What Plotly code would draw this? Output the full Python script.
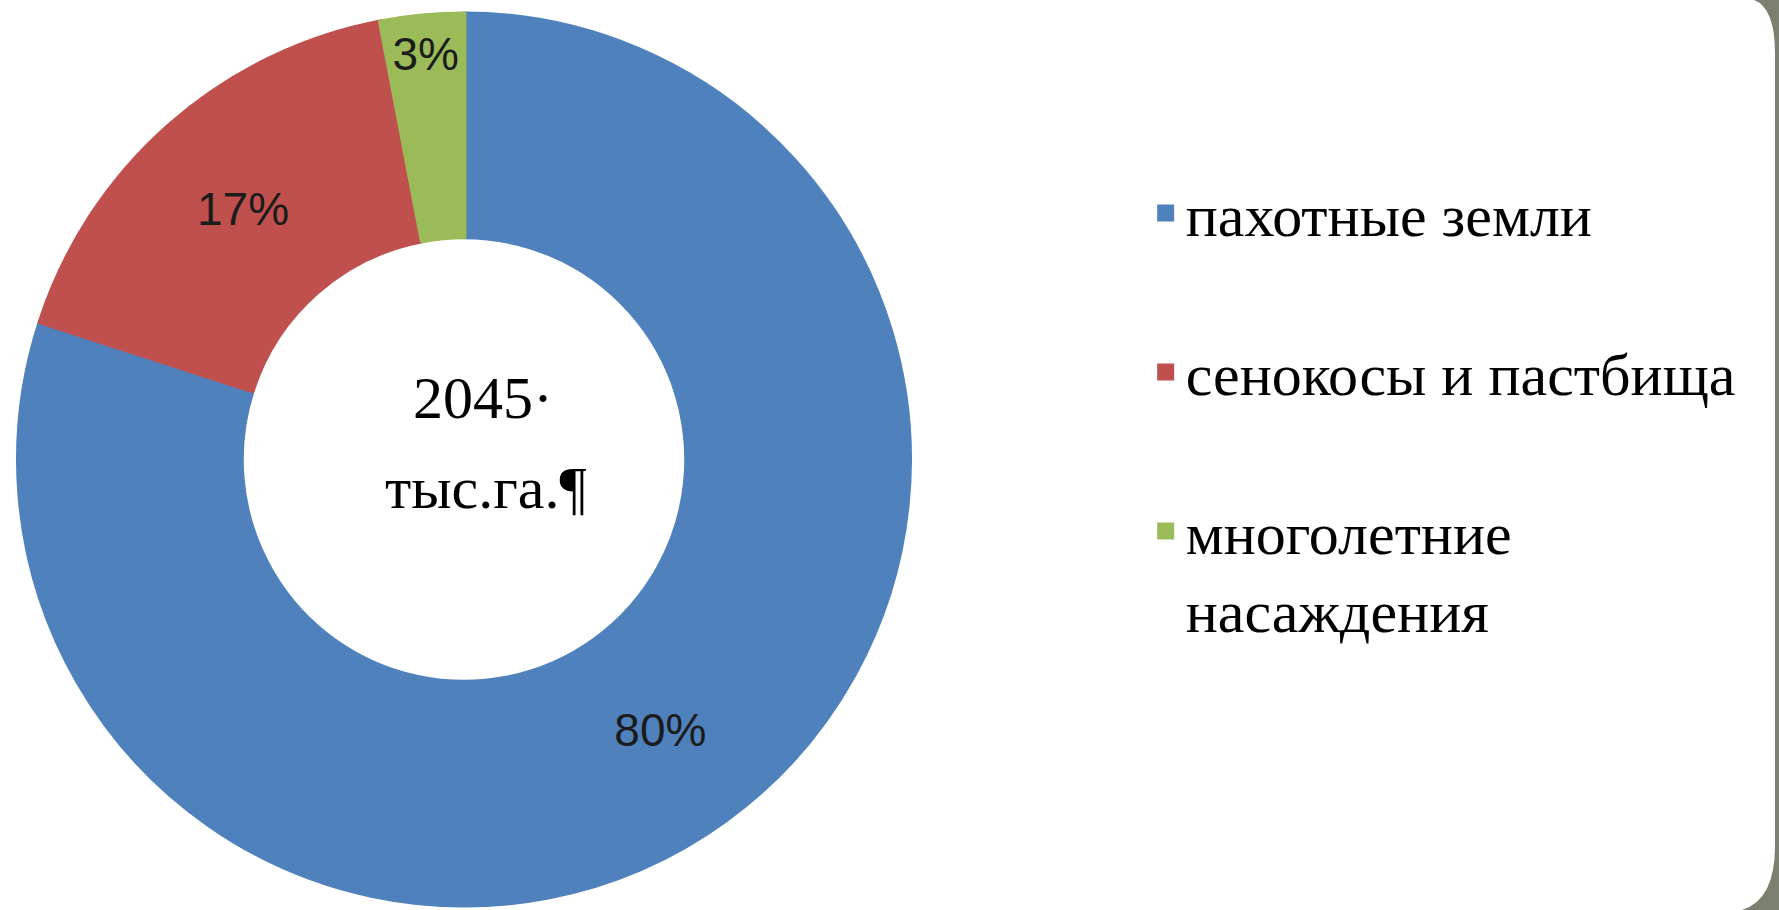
import plotly.graph_objects as go

# ---- data ----
categories = ["пахотные земли", "сенокосы и пастбища", "многолетние<br>насаждения"]
shares = [80, 17, 3]
colors = ["#4F81BD", "#C0504D", "#9BBB59"]
center_lines = ["2045·", "тыс.га.¶"]

W, H = 1779, 910

# legend labels: pad single-line entries with an empty line to mimic the wide spacing
legend_labels = [c if "<br>" in c else c + "<br> " for c in categories]

fig = go.Figure()
fig.add_trace(go.Pie(
    labels=legend_labels,
    values=shares,
    hole=0.5,
    sort=False,
    direction="clockwise",
    rotation=0,
    marker=dict(colors=colors, line=dict(color=colors, width=5)),
    textinfo="percent",
    textposition="inside",
    insidetextorientation="horizontal",
    textfont=dict(family="Liberation Sans, Arial, sans-serif", size=46, color="#1c1c1c"),
    domain=dict(x=[18.5 / W, 909.5 / W], y=[5 / H, 896 / H]),
    hoverinfo="label+percent",
))


def px(x, y):
    return f"{x / W:.5f} {1 - y / H:.5f}"


# grey slide frame on the right side (rounded corners of a slide)
frame_path = (
    f"M{px(1779, 0)}L{px(1754, 0)}"
    f"Q{px(1775, 8)} {px(1775, 53)}"
    f"L{px(1775, 846)}"
    f"Q{px(1775, 900)} {px(1742, 910)}"
    f"L{px(1779, 910)}Z"
)

serif = "Liberation Serif, Times New Roman, serif"

fig.update_layout(
    width=W,
    height=H,
    margin=dict(l=0, r=0, t=0, b=0),
    paper_bgcolor="white",
    plot_bgcolor="white",
    showlegend=True,
    uniformtext=dict(minsize=46, mode="show"),
    legend=dict(
        x=0.644,
        y=0.816,
        xanchor="left",
        yanchor="top",
        valign="top",
        font=dict(family=serif, size=60, color="#000000"),
        bgcolor="rgba(0,0,0,0)",
        traceorder="normal",
    ),
    annotations=[
        dict(text=center_lines[0], x=483 / W, y=1 - 398 / H, xref="paper", yref="paper",
             xanchor="center", yanchor="middle", showarrow=False,
             font=dict(family=serif, size=60, color="#000000")),
        dict(text=center_lines[1], x=486 / W, y=1 - 488 / H, xref="paper", yref="paper",
             xanchor="center", yanchor="middle", showarrow=False,
             font=dict(family=serif, size=60, color="#000000")),
    ],
    shapes=[
        dict(type="path", xref="paper", yref="paper", path=frame_path,
             fillcolor="#7A7F6E", line=dict(width=0), layer="above"),
    ],
)

fig.write_html(
    "out.html",
    config={"displayModeBar": False},
    post_script="document.body.style.margin='0';document.body.style.overflow='hidden';",
)
